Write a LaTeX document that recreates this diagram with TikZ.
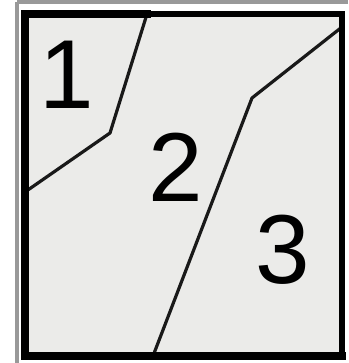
\documentclass[tikz,border=0pt]{standalone}
\usepackage{fontspec}
\setmainfont{Liberation Sans}
\usepackage{tikz}
\usetikzlibrary{calc}
\definecolor{lap}{HTML}{EBEBE9}
\tikzset{
  keret/.style={draw=black,line width=8pt},
  hatar/.style={draw=black!90,line width=3.2pt,line join=round},
  szam/.style={inner sep=0pt,font=\fontsize{98}{98}\selectfont},
  szel/.style={draw=black!40,line width=4pt},
}

\begin{document}
\begin{tikzpicture}[x=1pt,y=-1pt]
  \useasboundingbox[fill=white] (0,0) rectangle (348,363);
  \draw[szel] (17,2) -- (348,2); \draw[szel] (17,2) -- (17,363);
  \fill[lap] (25,14) rectangle (342,356);
  % hatarvonalak
  \coordinate (a1) at (147,14); \coordinate (a2) at (110,133); \coordinate (a3) at (25,192);
  \coordinate (b1) at (153,356); \coordinate (b2) at (252,98); \coordinate (b3) at (342,27);
  \draw[hatar] (a1) -- (a2) -- (a3);
  \draw[hatar] (b1) -- (b2) -- (b3);
  \draw[keret,line width=6pt] (147,14) -- (342,14) -- (342,356);
  \draw[keret,line cap=rect] (147,14) -- (25,14) -- (25,356) -- (342,356);
  \node[szam] (egy) at (67,75) {1};
  \node[szam] (ketto) at (176,167) {2};
  \node[szam] (harom) at (283,250) {3};
\end{tikzpicture}
\end{document}
